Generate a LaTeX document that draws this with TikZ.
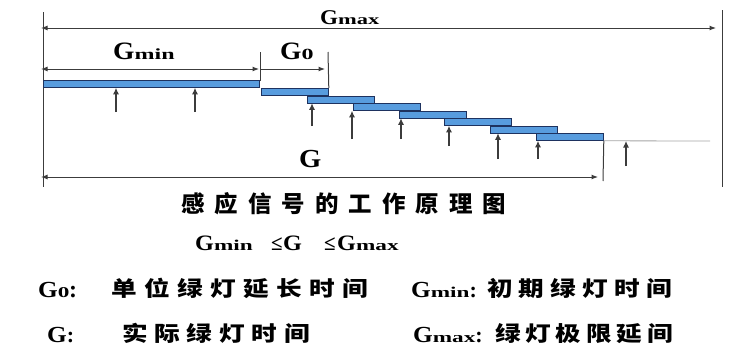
\documentclass[tikz,border=0pt]{standalone}
\usepackage{fontspec}
\setmainfont{Liberation Serif}
\newfontfamily\gf{Liberation Serif}[FakeStretch=1.1]
\newfontfamily\subf{Liberation Serif}[FakeStretch=1.55]
\newfontfamily\cjkA{Noto Sans CJK SC}[FakeStretch=1.02]
\newfontfamily\cjkB{Noto Sans CJK SC}[FakeStretch=1.22]
\usetikzlibrary{arrows.meta}
\newcommand\Gsym[3]{{\gf\fontsize{#1}{#1}\selectfont\bfseries G}{\subf\fontsize{#2}{#2}\selectfont\bfseries #3}}
\makeatletter
\newcommand\spreadbox[2]{\def\spr@w{#1}\spr@loop#2\relax}
\def\spr@loop#1{\ifx#1\relax\else\makebox[\spr@w][l]{#1}\expandafter\spr@loop\fi}
\makeatother
\definecolor{barfill}{RGB}{88,156,222}
\definecolor{barline}{RGB}{30,50,95}
\definecolor{ln}{RGB}{60,60,60}
\definecolor{lgrey}{RGB}{165,165,165}
\begin{document}
\begin{tikzpicture}[x=1pt,y=-1pt,
  bar/.style={draw=barline,fill=barfill,line width=0.8pt,inner sep=0pt,minimum height=7pt,minimum width=67pt,anchor=north west},
  dim/.style={draw=ln,line width=1pt},
  tip/.style={-{Latex[length=6.5pt,width=5pt]}},
  bothtip/.style={{Latex[length=6.5pt,width=5pt]}-{Latex[length=6.5pt,width=5pt]}},
  up/.style={draw=ln,line width=1.1pt,-{Latex[length=6.5pt,width=6pt]}},
  txt/.style={inner sep=0pt,anchor=base west},
  cjkrow/.style={txt,font=\cjkB\bfseries\fontsize{21}{21}\selectfont}]
\useasboundingbox (0,0) rectangle (748,364);
% frame verticals
\coordinate (lt) at (43,12); \coordinate (lb) at (43,187);
\coordinate (rt) at (722,10); \coordinate (rb) at (722,187);
\draw[draw=ln,line width=1pt] (lt) -- (lb);
\draw[draw=ln,line width=1pt] (rt) -- (rb);
% bars
\node[bar,minimum width=216pt] (b1) at (43,80) {};
\node[bar] (b2) at (261,88) {};
\node[bar] (b3) at (307,95.5) {};
\node[bar] (b4) at (353,103) {};
\node[bar] (b5) at (398.5,110.5) {};
\node[bar] (b6) at (444,118) {};
\node[bar] (b7) at (490,125.5) {};
\node[bar] (b8) at (536,133) {};
% dimension lines
\coordinate (gmaxL) at (41,28); \coordinate (gmaxR) at (716,28);
\draw[dim,bothtip] (gmaxL) -- (gmaxR);
\coordinate (gminL) at (41,69); \coordinate (gminR) at (259,69);
\draw[dim,bothtip] (gminL) -- (gminR);
\coordinate (g0L) at (260,69); \coordinate (g0R) at (325,69);
\draw[dim,tip] (g0L) -- (g0R);
\coordinate (v1t) at (260,52); \coordinate (v1b) at (260,81);
\draw[dim] (v1t) -- (v1b);
\coordinate (v2t) at (328,52);
\draw[dim] (v2t) -- (b2.north east);
\coordinate (gL) at (41,177); \coordinate (gR) at (598,177);
\draw[dim,bothtip] (gL) -- (gR);
\coordinate (v3b) at (603,181);
\draw[dim] (b8.south east) -- (v3b);
\coordinate (tail) at (710,141);
\draw[draw=lgrey,line width=0.8pt] (b8.south east) -- (tail);
% detector arrows
\coordinate (a1) at (116,112); \coordinate (a2) at (195,112);
\coordinate (a3) at (312,126); \coordinate (a4) at (352,139);
\coordinate (a5) at (401,139); \coordinate (a6) at (449,146);
\coordinate (a7) at (498,159); \coordinate (a8) at (538,159);
\coordinate (a9) at (626,166); \coordinate (a9t) at (626,141);
\draw[up] (a1) -- (a1 |- b1.south);
\draw[up] (a2) -- (a2 |- b1.south);
\draw[up] (a3) -- (a3 |- b3.south);
\draw[up] (a4) -- (a4 |- b4.south);
\draw[up] (a5) -- (a5 |- b5.south);
\draw[up] (a6) -- (a6 |- b6.south);
\draw[up] (a7) -- (a7 |- b7.south);
\draw[up] (a8) -- (a8 |- b8.south);
\draw[up] (a9) -- (a9t);
% labels on diagram
\node[txt] (lgmax) at (320,24) {\Gsym{21}{14.5}{max}};
\node[txt] (lgmin) at (113,59) {\Gsym{25}{15.5}{min}};
\node[txt] (lg0) at (280,59) {\Gsym{25}{15.5}{0}};
\node[txt] (lg) at (299,167) {\Gsym{26}{15}{}};
% title
\node[txt] (title) at (181,212) {\cjkA\fontsize{23}{23}\selectfont\bfseries\spreadbox{33.5pt}{感应信号的工作原理图}};
% inequality
\node[txt] (i1) at (195,250) {\Gsym{22}{15}{min}};
\node[txt] (i2) at (271,250) {\bfseries\fontsize{21}{21}\selectfont ≤};
\node[txt] (i3) at (283,250) {\Gsym{22}{15}{}};
\node[txt] (i4) at (324,250) {\bfseries\fontsize{21}{21}\selectfont ≤};
\node[txt] (i5) at (337,250) {\Gsym{22}{15}{max}};
% legend
\node[txt] (r1a) at (38,297) {\Gsym{23}{15}{0}};
\node[txt] (r1b) at (69,297) {\bfseries\fontsize{24}{24}\selectfont :};
\node[cjkrow] (r1c) at (111,296) {\spreadbox{33pt}{单位绿灯延长时间}};
\node[txt] (r1d) at (411,297) {\Gsym{23}{15}{min}\bfseries\fontsize{22}{22}\selectfont :};
\node[cjkrow] (r1f) at (487,296) {\spreadbox{31.8pt}{初期绿灯时间}};
\node[txt] (r2a) at (47,342) {\Gsym{23}{15}{}\bfseries\fontsize{22}{22}\selectfont :};
\node[cjkrow] (r2b) at (122,341) {\spreadbox{32.4pt}{实际绿灯时间}};
\node[txt] (r2c) at (413,342) {\Gsym{23}{15}{max}\bfseries\fontsize{22}{22}\selectfont :};
\node[cjkrow] (r2d) at (495,341) {\spreadbox{30.4pt}{绿灯极限延间}};
\end{tikzpicture}
\end{document}
